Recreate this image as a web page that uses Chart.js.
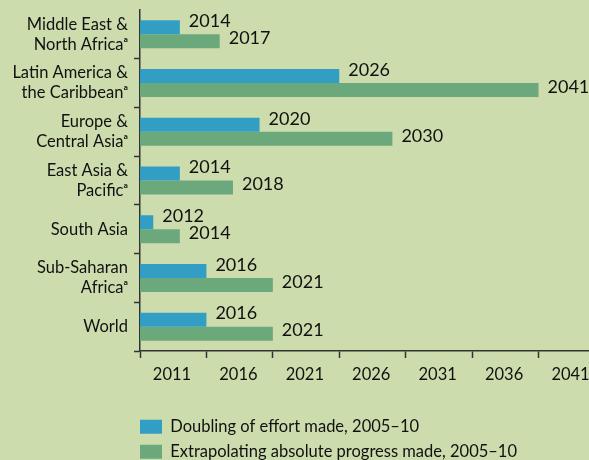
<!DOCTYPE html>
<html>
<head>
<meta charset="utf-8">
<script src="https://cdn.jsdelivr.net/npm/chart.js@4"></script>
<style>
  body { margin: 0; background: #cddcad; }
  #wrap { width: 589px; height: 460px; }
</style>
</head>
<body>
<div id="wrap"><canvas id="chart" width="589" height="460"></canvas></div>
<script>
// data
const regions = [
    ["Middle East &", "North Africaᵃ"],
    ["Latin America &", "the Caribbeanᵃ"],
    ["Europe &", "Central Asiaᵃ"],
    ["East Asia &", "Pacificᵃ"],
    "South Asia",
    ["Sub-Saharan", "Africaᵃ"],
    "World"
];
const doublingEffort = [2014, 2026, 2020, 2014, 2012, 2016, 2016];
const absoluteProgress = [2017, 2041, 2030, 2018, 2014, 2021, 2021];
const tickYears = [2011, 2016, 2021, 2026, 2031, 2036, 2041];

const FONT = "Lato";
const axisColor = "#333333";
const textColor = "#111111";

// numbers next to the end of each bar
const barLabels = {
    id: "barLabels",
    afterDatasetsDraw(chart) {
        const ctx = chart.ctx;
        ctx.save();
        ctx.font = "18px " + FONT;
        ctx.fillStyle = textColor;
        ctx.textAlign = "left";
        ctx.textBaseline = "middle";
        chart.data.datasets.forEach((ds, i) => {
            const lift = i === 0 ? -6 : -3;
            chart.getDatasetMeta(i).data.forEach((bar, j) => {
                ctx.fillText(String(ds.data[j]), bar.x + 9, bar.y + lift);
            });
        });
        ctx.restore();
    }
};

// legend sits under the plot, flush with the y axis
const legendShift = {
    id: "legendShift",
    afterLayout(chart) {
        if (chart.legend) chart.legend.left -= 8.5;
    }
};

new Chart(document.getElementById("chart"), {
    type: "bar",
    data: {
        labels: regions,
        datasets: [
            {
                label: "Doubling of effort made, 2005–10",
                data: doublingEffort,
                backgroundColor: "#339ec4"
            },
            {
                label: "Extrapolating absolute progress made, 2005–10",
                data: absoluteProgress,
                backgroundColor: "#6ba87c"
            }
        ]
    },
    options: {
        indexAxis: "y",
        responsive: false,
        animation: false,
        layout: { padding: { top: 10, right: 0, bottom: 0, left: 0 } },
        datasets: {
            bar: { barPercentage: 1, categoryPercentage: 0.575 }
        },
        scales: {
            x: {
                min: 2011,
                max: 2044.8,
                afterBuildTicks(scale) {
                    scale.ticks = tickYears.map(v => ({ value: v }));
                },
                afterFit(scale) {
                    scale.height = 59;
                    scale.paddingLeft = 0;
                    scale.paddingRight = 0;
                },
                grid: {
                    drawOnChartArea: false,
                    drawTicks: true,
                    tickLength: 7,
                    tickWidth: 1.5,
                    color: axisColor
                },
                border: { display: true, color: axisColor, width: 1.5 },
                ticks: {
                    padding: 7,
                    labelOffset: 32,
                    maxRotation: 0,
                    autoSkip: false,
                    color: textColor,
                    font: { family: FONT, size: 16.5 },
                    callback: v => String(v)
                }
            },
            y: {
                afterFit(scale) {
                    scale.width = 140;
                    scale.paddingTop = 0;
                    scale.paddingBottom = 0;
                },
                grid: {
                    offset: true,
                    drawOnChartArea: false,
                    drawTicks: true,
                    tickLength: 6,
                    tickWidth: 1.5,
                    color: c => (c.index === 0 ? "rgba(0,0,0,0)" : axisColor)
                },
                border: { display: true, color: axisColor, width: 1.5 },
                ticks: {
                    padding: 6,
                    color: textColor,
                    font: { family: FONT, size: 16.5, lineHeight: 1.2 }
                }
            }
        },
        plugins: {
            tooltip: { enabled: false },
            legend: {
                position: "bottom",
                align: "start",
                fullSize: false,
                maxHeight: 50,
                labels: {
                    boxWidth: 22,
                    boxHeight: 14,
                    padding: 8.5,
                    color: textColor,
                    font: { family: FONT, size: 16.5 }
                }
            }
        }
    },
    plugins: [barLabels, legendShift]
});
</script>
</body>
</html>
